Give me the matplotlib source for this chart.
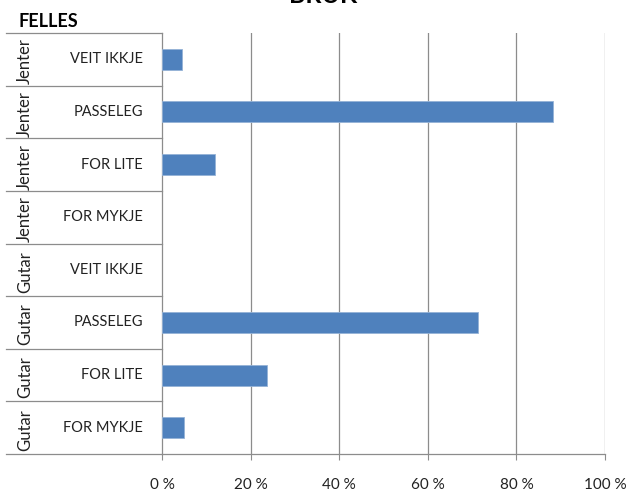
import matplotlib
matplotlib.use("Agg")
import matplotlib.pyplot as plt
import matplotlib.transforms as mtransforms

plt.rcParams['font.family'] = ['Lato', 'DejaVu Sans']

groups = ["Jenter", "Jenter", "Jenter", "Jenter", "Gutar", "Gutar", "Gutar", "Gutar"]
answers = ["VEIT IKKJE", "PASSELEG", "FOR LITE", "FOR MYKJE",
           "VEIT IKKJE", "PASSELEG", "FOR LITE", "FOR MYKJE"]
shares = [4.6, 88.2, 12.0, 0.0, 0.0, 71.3, 23.7, 5.0]
x_ticks = [0, 20, 40, 60, 80, 100]
x_labels = ["0 %", "20 %", "40 %", "60 %", "80 %", "100 %"]

W, H = 630, 492
fig = plt.figure(figsize=(W / 100, H / 100), dpi=100)
left, right, top, bottom = 162, 605, 33, 454
ax = fig.add_axes([left / W, 1 - bottom / H, (right - left) / W, (bottom - top) / H])

grid_col = "#8c8c8c"
pos = list(range(len(answers)))
edge_w = [0.6 if v > 0 else 0 for v in shares]
ax.barh(pos, shares, height=0.4, color="#4f81bd", edgecolor="#95b3d7",
        linewidth=edge_w, zorder=3)

ax.set_xlim(0, 100)
ax.set_ylim(len(answers) - 0.5, -0.5)
ax.set_xticks(x_ticks)
ax.set_xticklabels(x_labels, fontsize=11, color="#222222")
ax.tick_params(axis="x", length=4.5, width=0.8, color=grid_col, pad=13)
ax.set_yticks([])
for x in x_ticks[1:]:
    ax.axvline(x, color=grid_col, lw=0.9, zorder=1)

for side in ("top", "right"):
    ax.spines[side].set_visible(False)
for side in ("left", "bottom"):
    ax.spines[side].set_color(grid_col)
    ax.spines[side].set_linewidth(0.9)

# two-level category axis: separators, group labels, answer labels
trans = mtransforms.blended_transform_factory(ax.transAxes, ax.transData)
x0 = -(left - 6) / (right - left)
for b in [i - 0.5 for i in range(len(answers) + 1)]:
    ax.plot([x0, 0], [b, b], color=grid_col, lw=0.9, transform=trans, clip_on=False)

x_inner = -(left - 143) / (right - left)
x_outer = -(left - 25) / (right - left)
for i, (g, a) in enumerate(zip(groups, answers)):
    ax.text(x_inner, i, a, transform=trans, ha="right", va="center",
            fontsize=10.5, color="#222222")
    ax.text(x_outer, i + 0.04, g, transform=trans, ha="center", va="center",
            rotation=90, fontsize=12, color="#222222")

fig.text(18 / W, 1 - 27 / H, "FELLES", fontsize=13, fontweight="bold",
         ha="left", va="baseline", color="black")
fig.text(323 / W, 1 - 3 / H, "BRUK", fontsize=18, fontweight="bold",
         ha="center", va="baseline", color="black")

fig.savefig("out.png", dpi=100)
